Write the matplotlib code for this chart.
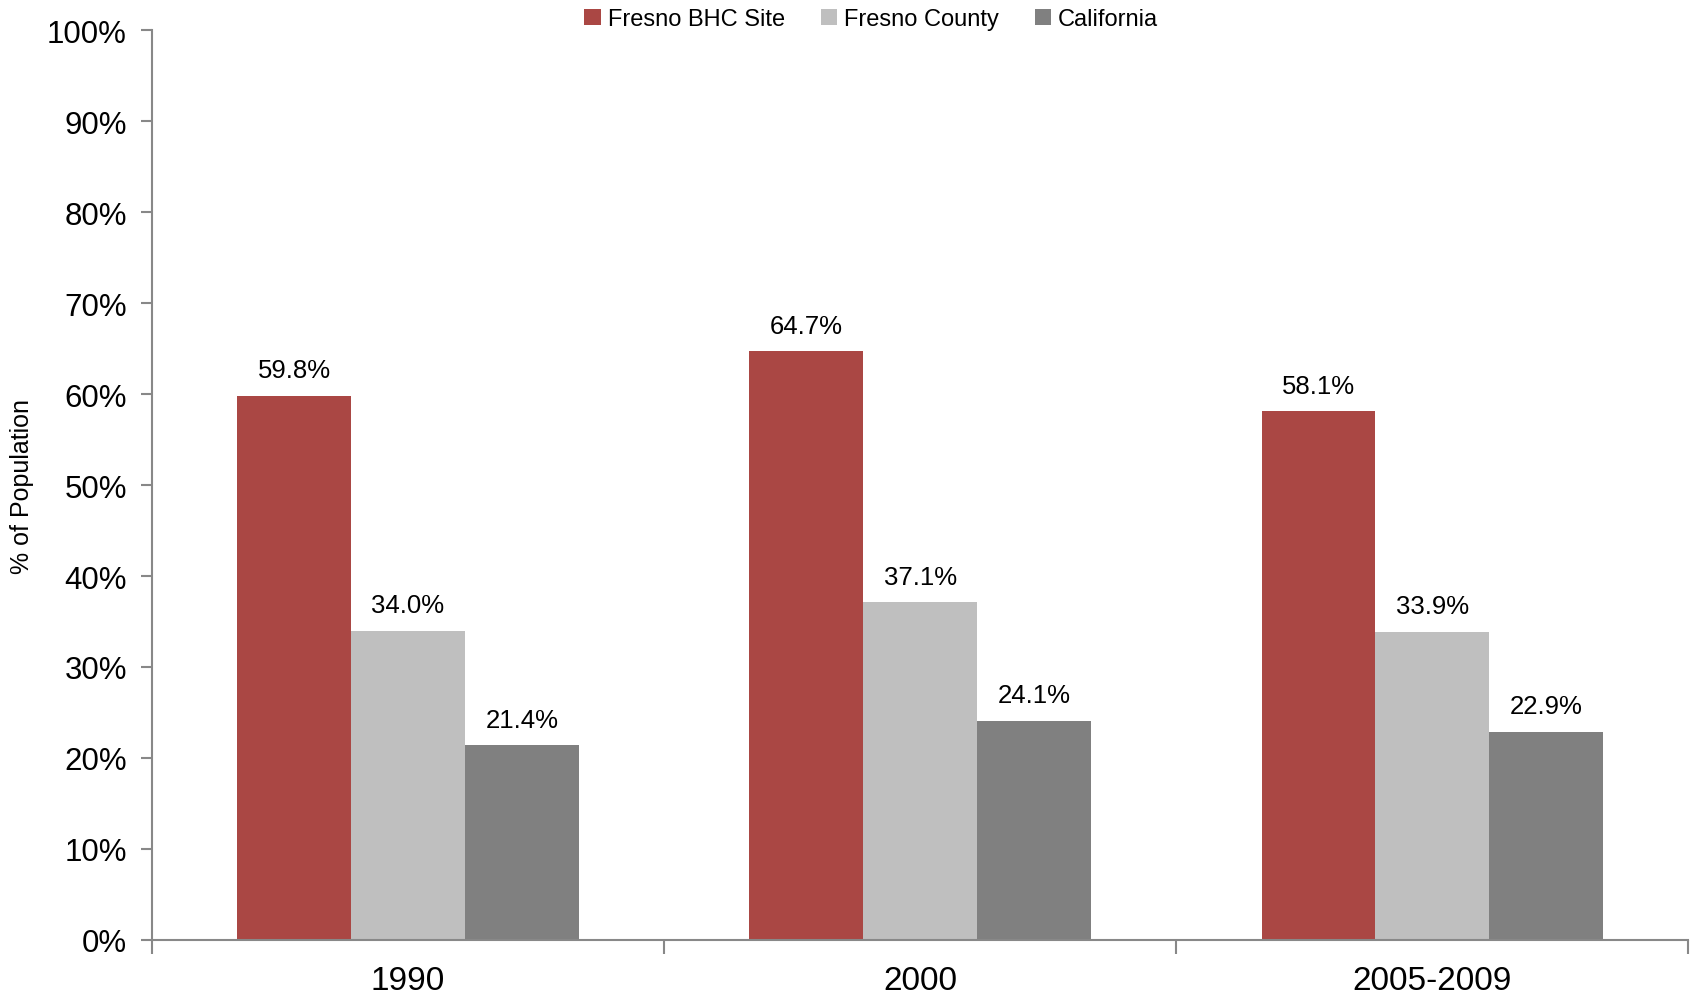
import matplotlib
matplotlib.use("Agg")
import matplotlib.pyplot as plt
import numpy as np

plt.rcParams['font.family'] = ['Liberation Sans', 'DejaVu Sans']

periods = ["1990", "2000", "2005-2009"]
series_names = ["Fresno BHC Site", "Fresno County", "California"]
bhc_site = [59.8, 64.7, 58.1]
fresno_county = [34.0, 37.1, 33.9]
california = [21.4, 24.1, 22.9]
colors = ["#AA4744", "#BFBFBF", "#808080"]

fig = plt.figure(figsize=(16.92, 9.95), dpi=100)
ax = fig.add_axes([0.0898, 0.0543, 0.908, 0.9145])

x = np.arange(len(periods))
w = 1 / 4.5
for i, (vals, name) in enumerate(zip([bhc_site, fresno_county, california], series_names)):
    pos = x + (i - 1) * w
    ax.bar(pos, vals, width=w, color=colors[i], label=name, zorder=2)
    for p, v in zip(pos, vals):
        ax.text(p, v + 1.5, f"{v:.1f}%", ha="center", va="bottom", fontsize=18.5)

ax.set_xlim(-0.5, 2.5)
ax.set_ylim(0, 100)
ax.set_yticks(np.arange(0, 101, 10))
ax.set_yticklabels([f"{t}%" for t in range(0, 101, 10)], fontsize=22.5)
ax.set_xticks(x)
ax.set_xticklabels(periods, fontsize=24)
ax.set_xticks([-0.5, 0.5, 1.5, 2.5], minor=True)
ax.tick_params(axis="x", which="major", length=0, pad=18)
ax.tick_params(axis="x", which="minor", length=10, color="#888888", width=1.5)
ax.tick_params(axis="y", length=8, color="#888888", width=1.5, pad=10)

for s in ["top", "right"]:
    ax.spines[s].set_visible(False)
for s in ["left", "bottom"]:
    ax.spines[s].set_color("#888888")
    ax.spines[s].set_linewidth(1.5)

ax.set_ylabel("% of Population", fontsize=18)
ax.yaxis.set_label_coords(-0.077, 0.5)

fig.legend(loc="upper center", bbox_to_anchor=(0.515, 1.012), ncol=3, frameon=False,
           fontsize=17, handlelength=0.7, handleheight=0.7, handletextpad=0.3, columnspacing=1.5)

fig.savefig("out.png", dpi=100)
